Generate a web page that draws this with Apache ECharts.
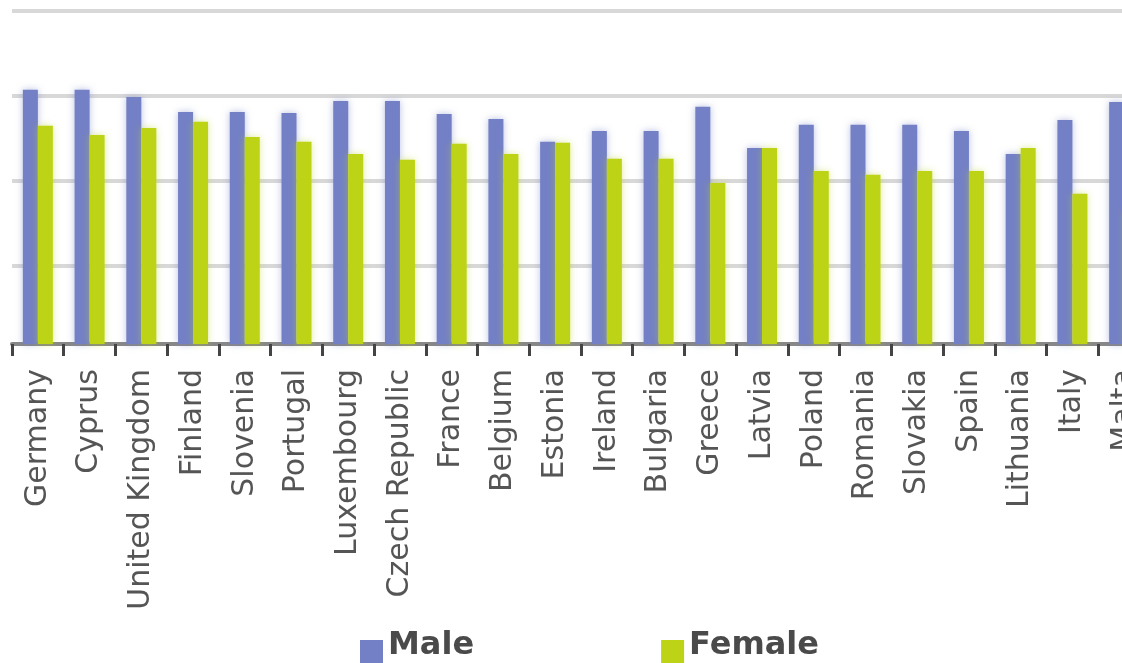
<!DOCTYPE html>
<html>
<head>
<meta charset="utf-8">
<title>Male / Female by country</title>
<script src="https://cdn.jsdelivr.net/npm/echarts@6/dist/echarts.min.js"></script>
<style>
  html, body { margin: 0; padding: 0; background: #ffffff; }
  #chart { width: 1122px; height: 663px; }
</style>
</head>
<body>
<div id="chart"></div>
<script>
const categories = ['Germany', 'Cyprus', 'United Kingdom', 'Finland', 'Slovenia', 'Portugal', 'Luxembourg', 'Czech Republic', 'France', 'Belgium', 'Estonia', 'Ireland', 'Bulgaria', 'Greece', 'Latvia', 'Poland', 'Romania', 'Slovakia', 'Spain', 'Lithuania', 'Italy', 'Malta'];
const maleValues = [76.8, 76.8, 74.7, 70.3, 70.3, 70.0, 73.5, 73.5, 69.7, 68.2, 61.5, 64.7, 64.7, 71.8, 59.7, 66.5, 66.5, 66.5, 64.7, 57.9, 67.9, 73.2];
const femaleValues = [66.2, 63.5, 65.6, 67.4, 62.9, 61.5, 57.9, 56.2, 60.9, 57.9, 61.2, 56.5, 56.5, 49.4, 59.7, 52.9, 51.8, 52.9, 52.9, 59.7, 46.2, 41.0];
const seriesNames = ['Male', 'Female'];

const chart = echarts.init(document.getElementById('chart'), null, { renderer: 'canvas' });

// legend swatch: invisible sliver on top so the text sits higher than the square
const swatch = 'path://M0,0L23,0L23,0.01Z M0,14L23,14L23,40L0,40Z';

chart.setOption({
  animation: false,
  backgroundColor: '#ffffff',
  grid: {
    left: 12,
    top: 11,
    width: 1138,
    height: 333,
    containLabel: false,
    outerBoundsMode: 'none'
  },
  legend: {
    data: seriesNames.map(function (n) { return { name: n, icon: swatch }; }),
    left: 360,
    top: 626,
    padding: 0,
    itemWidth: 23,
    itemHeight: 40,
    itemGap: 187,
    textStyle: {
      fontFamily: 'DejaVu Sans',
      fontSize: 32,
      fontWeight: 'bold',
      color: '#4a4a4a'
    }
  },
  xAxis: {
    type: 'category',
    data: categories,
    boundaryGap: true,
    axisLine: { show: true, onZero: false, lineStyle: { color: '#888888', width: 4 } },
    axisTick: { show: true, length: 12, lineStyle: { color: '#444444', width: 3 } },
    axisLabel: {
      rotate: 90,
      interval: 0,
      margin: 25,
      fontFamily: 'DejaVu Sans',
      fontSize: 30,
      color: '#555555'
    },
    splitLine: { show: false }
  },
  yAxis: [
    {
      type: 'value',
      min: 2,
      max: 100,
      axisLine: { show: false },
      axisTick: { show: false },
      axisLabel: { show: false },
      splitLine: { show: false }
    },
    {
      // gridline scale, measured from the top of the plot
      type: 'value',
      position: 'left',
      inverse: true,
      min: 0,
      max: 97.9,
      interval: 25,
      axisLine: { show: false },
      axisTick: { show: false },
      axisLabel: { show: false },
      splitLine: { show: true, lineStyle: { color: '#d8d8d8', width: 4 } }
    }
  ],
  series: [
    {
      name: seriesNames[0],
      type: 'bar',
      yAxisIndex: 0,
      data: maleValues,
      barWidth: 15,
      barGap: '0%',
      itemStyle: { color: '#7480c5', shadowColor: 'rgba(116,128,197,0.5)', shadowBlur: 7 }
    },
    {
      name: seriesNames[1],
      type: 'bar',
      yAxisIndex: 0,
      data: femaleValues,
      barWidth: 15,
      barGap: '0%',
      itemStyle: { color: '#bdd416', shadowColor: 'rgba(189,212,22,0.45)', shadowBlur: 7 }
    }
  ]
});
</script>
</body>
</html>
